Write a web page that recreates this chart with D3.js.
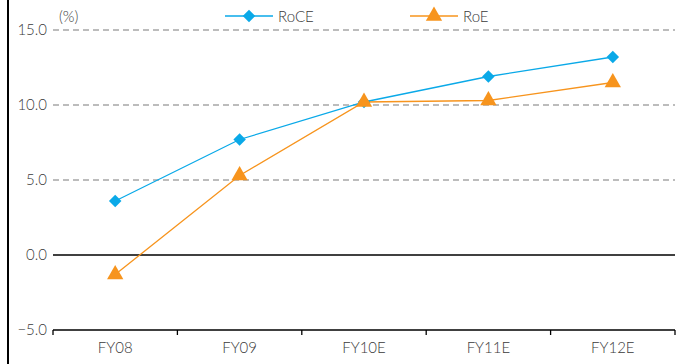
<!DOCTYPE html>
<html>
<head>
<meta charset="utf-8">
<script src="https://cdn.jsdelivr.net/npm/d3@7"></script>
<style>
  html, body { margin: 0; padding: 0; background: #fff; }
  svg { display: block; font-family: Lato, "Open Sans", sans-serif; font-weight: 300; }
</style>
</head>
<body>
<svg id="chart" width="682" height="364"></svg>
<script>
// Return ratios by fiscal year (%)
const years = ["FY08", "FY09", "FY10E", "FY11E", "FY12E"];
const roce = [3.6, 7.7, 10.2, 11.9, 13.2];
const roe = [-1.3, 5.3, 10.2, 10.3, 11.5];
const yTicks = [-5, 0, 5, 10, 15];
const seriesNames = ["RoCE", "RoE"];
const seriesColors = ["#0AA9E8", "#F7941D"];

const svg = d3.select("#chart");
const margin = { left: 53, right: 7, top: 30, bottom: 34 };
const W = 682, H = 364;
const textColor = "#3a3a3a";
const fontSize = 15;

const x = d3.scaleBand().domain(years).range([margin.left, W - margin.right]);
const y = d3.scaleLinear().domain([-5, 15]).range([H - margin.bottom, margin.top]);

// left frame rule
svg.append("line")
  .attr("x1", 8).attr("x2", 8).attr("y1", 0).attr("y2", H)
  .attr("stroke", "#000").attr("stroke-width", 2);

// horizontal gridlines
yTicks.filter(v => v > 0).forEach(v => {
  svg.append("line")
    .attr("x1", margin.left).attr("x2", W - margin.right)
    .attr("y1", y(v)).attr("y2", y(v))
    .attr("stroke", "#a6a6a6").attr("stroke-width", 1.3)
    .attr("stroke-dasharray", "6,4");
});
// zero line
svg.append("line")
  .attr("x1", margin.left).attr("x2", W - margin.right)
  .attr("y1", y(0)).attr("y2", y(0))
  .attr("stroke", "#000").attr("stroke-width", 1.3);

// y axis labels
const yAxis = d3.axisLeft(y).tickValues(yTicks).tickFormat(d3.format(".1f")).tickSize(0).tickPadding(6);
const gy = svg.append("g").attr("transform", `translate(${margin.left},0)`).call(yAxis);
gy.select(".domain").remove();
gy.selectAll("text").attr("font-size", fontSize).attr("fill", textColor)
  .attr("font-family", "Lato, sans-serif").attr("font-weight", 300);

// x axis with boundary ticks
const gx = svg.append("g").attr("transform", `translate(0,${y(-5)})`);
gx.append("line")
  .attr("x1", margin.left).attr("x2", W - margin.right)
  .attr("stroke", "#000").attr("stroke-width", 1.3);
const bounds = years.map(d => x(d)).concat([x(years[years.length - 1]) + x.bandwidth()]);
gx.selectAll("line.tick").data(bounds).join("line").attr("class", "tick")
  .attr("x1", d => d).attr("x2", d => d).attr("y1", 0).attr("y2", 5)
  .attr("stroke", "#000").attr("stroke-width", 1.3);
gx.selectAll("text").data(years).join("text")
  .attr("x", d => x(d) + x.bandwidth() / 2)
  .attr("y", 23)
  .attr("text-anchor", "middle")
  .attr("font-size", fontSize).attr("fill", textColor)
  .text(d => d);

// unit label
svg.append("text").attr("x", 59).attr("y", 22).attr("font-size", fontSize).attr("fill", textColor).text("(%)");

const cx = d => x(d) + x.bandwidth() / 2;
const line = d3.line().x((d, i) => cx(years[i])).y(d => y(d));
const diamond = d3.symbol().type(d3.symbolSquare).size(78);
const triangle = d3.symbol().type(d3.symbolTriangle).size(115);

[[roce, 0], [roe, 1]].forEach(([vals, k]) => {
  svg.append("path").datum(vals)
    .attr("d", line).attr("fill", "none")
    .attr("stroke", seriesColors[k]).attr("stroke-width", 1.3);
});
[[roce, 0, diamond, 45], [roe, 1, triangle, 0]].forEach(([vals, k, sym, rot]) => {
  svg.selectAll(null).data(vals).join("path")
    .attr("d", sym)
    .attr("fill", seriesColors[k])
    .attr("transform", (d, i) => `translate(${cx(years[i])},${y(d)}) rotate(${rot})`);
});

// legend
const legend = [
  { x0: 225, name: seriesNames[0], color: seriesColors[0], sym: diamond, rot: 45 },
  { x0: 410, name: seriesNames[1], color: seriesColors[1], sym: triangle, rot: 0 }
];
legend.forEach(l => {
  const g = svg.append("g").attr("transform", `translate(${l.x0},16)`);
  g.append("line").attr("x1", 0).attr("x2", 48).attr("stroke", l.color).attr("stroke-width", 1.3);
  g.append("path").attr("d", l.sym).attr("fill", l.color).attr("transform", `translate(24,0) rotate(${l.rot})`);
  g.append("text").attr("x", 53).attr("y", 5.5).attr("font-size", fontSize).attr("fill", textColor).text(l.name);
});
</script>
</body>
</html>
